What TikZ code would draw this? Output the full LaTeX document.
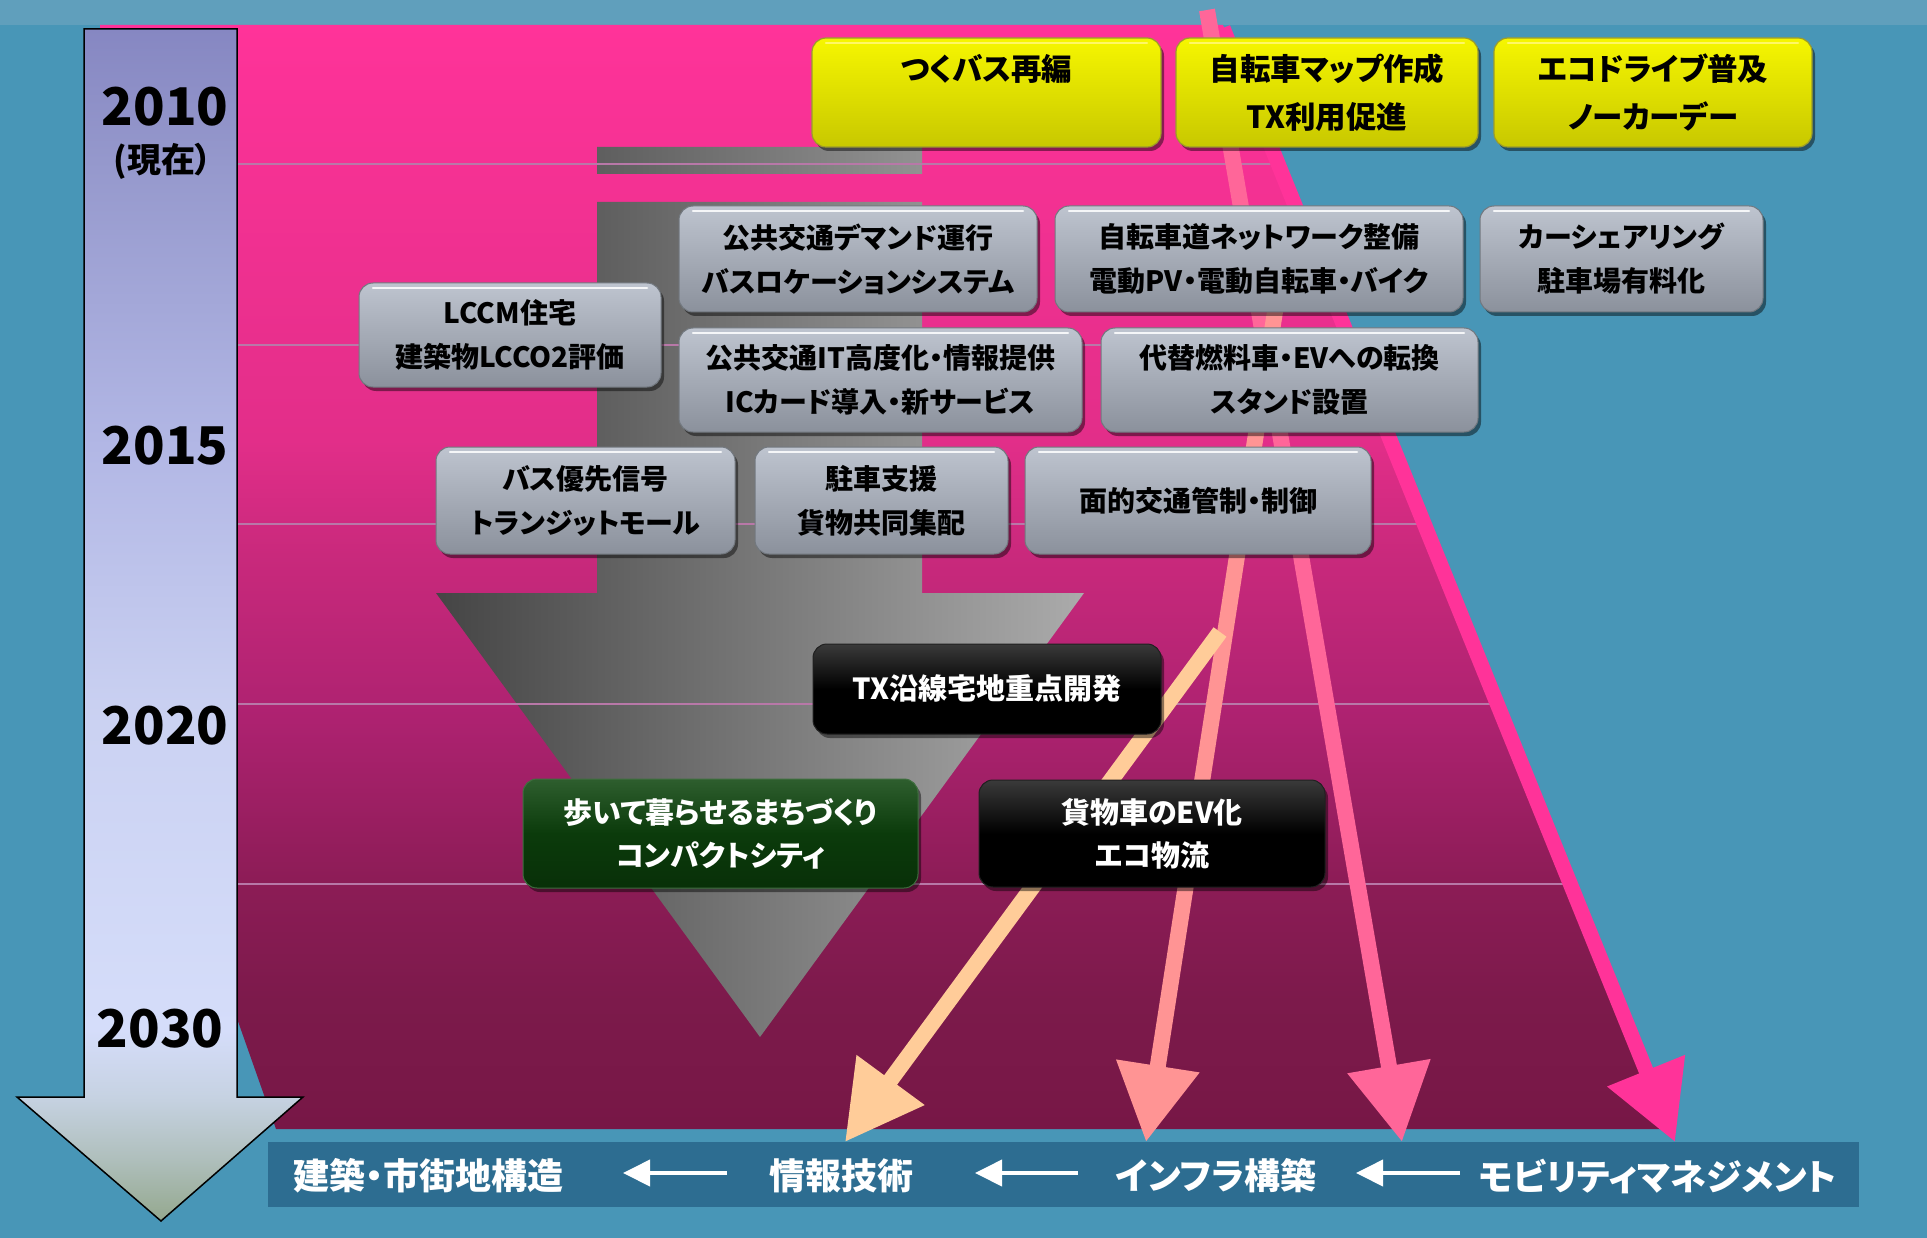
\documentclass[tikz,border=0pt]{standalone}
\usepackage{fontspec}
\setmainfont{Noto Sans CJK JP}[RawFeature=+palt]
\usetikzlibrary{arrows.meta,shadows}

\definecolor{bgblue}{HTML}{4896B7}
\definecolor{topband}{HTML}{609FBC}
\definecolor{bandblue}{HTML}{2D6D91}
\definecolor{pkA}{HTML}{771746}
\definecolor{pkB}{HTML}{7C1A4B}
\definecolor{pkC}{HTML}{8C1C56}
\definecolor{pkD}{HTML}{AD2270}
\definecolor{pkE}{HTML}{C9297C}
\definecolor{pkF}{HTML}{E22E89}
\definecolor{pkG}{HTML}{FF3399}
\definecolor{tlA}{HTML}{94A88E}
\definecolor{tlB}{HTML}{AFBFBC}
\definecolor{tlC}{HTML}{C6D2E2}
\definecolor{tlD}{HTML}{D5DDFA}
\definecolor{tlE}{HTML}{CBD2F2}
\definecolor{tlF}{HTML}{B2B7E5}
\definecolor{tlG}{HTML}{9598CC}
\definecolor{tlH}{HTML}{8687C2}
\definecolor{grayL}{HTML}{454545}
\definecolor{grayR}{HTML}{ABABAB}
\definecolor{yelT}{HTML}{F6F600}
\definecolor{yelB}{HTML}{C8C800}
\definecolor{yelD}{HTML}{9C9C2C}
\definecolor{gryT}{HTML}{BEC4CF}
\definecolor{gryB}{HTML}{8B919C}
\definecolor{gryD}{HTML}{72787F}
\definecolor{blkT}{HTML}{3A3A3A}
\definecolor{blkD}{HTML}{202020}
\definecolor{grnT}{HTML}{2E5E2E}
\definecolor{grnM}{HTML}{0B3B0B}
\definecolor{grnB}{HTML}{083008}
\definecolor{grnD}{HTML}{3F6F3F}
\definecolor{hotpink}{HTML}{FF3399}
\definecolor{pinkarr}{HTML}{FF6699}
\definecolor{salmon}{HTML}{FF9494}
\definecolor{peach}{HTML}{FFCC99}
\definecolor{yrline}{HTML}{B878A8}

\pgfdeclareverticalshading{pinkshade}{100bp}{color(0bp)=(pkA); color(25bp)=(pkA); color(30.8bp)=(pkB); color(36.1bp)=(pkC); color(43.5bp)=(pkD); color(51bp)=(pkE); color(56.2bp)=(pkF); color(75bp)=(pkG); color(100bp)=(pkG)}
\pgfdeclareverticalshading{tlshade}{100bp}{color(0bp)=(tlA); color(25bp)=(tlA); color(27.6bp)=(tlB); color(30.2bp)=(tlC); color(33bp)=(tlD); color(45.8bp)=(tlE); color(57.5bp)=(tlF); color(69.5bp)=(tlG); color(75bp)=(tlH); color(100bp)=(tlH)}

\newcommand\bxfontY{\fontsize{30.5}{48}\selectfont\bfseries}
\newcommand\bxfontG{\fontsize{28}{44}\selectfont\bfseries}
\newcommand\bxfontK{\fontsize{29}{43}\selectfont\bfseries}
\newcommand\yrfont{\fontsize{52}{56}\selectfont\bfseries}
\newcommand\lbfont{\fontsize{36}{40}\selectfont\bfseries}

\tikzset{
  box/.style={rounded corners=14pt, inner sep=0pt, align=center,
    drop shadow={shadow xshift=3pt, shadow yshift=-4pt, opacity=.45, fill=black}},
  hl/.style={path picture={\draw[#1, line width=2.5pt, line cap=round]
      ([xshift=14pt,yshift=-5pt]path picture bounding box.north west) --
      ([xshift=-14pt,yshift=-5pt]path picture bounding box.north east);}},
  ybox/.style={box, top color=yelT, bottom color=yelB, draw=yelD, line width=1.2pt,
    text=black, font=\bxfontY, hl={yellow!60!white}},
  gbox/.style={box, top color=gryT, bottom color=gryB, draw=gryD, line width=1pt,
    text=black, font=\bxfontG, hl={white!85!gryT}},
  kbox/.style={box, top color=blkT, bottom color=black, middle color=black, draw=blkD,
    line width=1pt, text=white, font=\bxfontK},
  grbox/.style={box, top color=grnT, bottom color=grnB, middle color=grnM, draw=grnD,
    line width=1pt, text=white, font=\bxfontK},
  yrlab/.style={font=\yrfont, text=black, inner sep=0pt},
  blab/.style={font=\lbfont, text=white, inner sep=0pt},
  bigarr/.style={line width=16pt, #1, -{Triangle[width=80pt,length=77pt]}},
  warr/.style={white, line width=4pt, -{Triangle[width=26pt,length=27pt]}},
  yrl/.style={yrline, line width=1.2pt},
}

\begin{document}
\begin{tikzpicture}[x=1pt,y=-1pt]
\useasboundingbox (0,0) rectangle (1927,1238);
% background
\fill[bgblue] (0,0) rectangle (1927,1238);
\fill[topband] (0,0) rectangle (1927,25);
% pink region
\shade[shading=pinkshade] (100,25) -- (1223,25) -- (1670,1129) -- (276,1129) -- (234,1010) -- cycle;
% big gray arrow
\shade[left color=grayL, right color=grayR]
  (597,147) rectangle (922,174)
  (597,202) -- (922,202) -- (922,593) -- (1084,593) -- (760,1037) -- (436,593) -- (597,593) -- cycle;
% year lines
\foreach \yy/\xx in {164/1279,345/1352,524/1425,704/1498,884/1571}
  \draw[yrl] (237,\yy) -- (\xx,\yy);
% timeline arrow
\shadedraw[shading=tlshade, draw=black, line width=1.5pt]
  (84,29) -- (237,29) -- (237,1097) -- (303,1097) -- (161,1221) -- (17,1097) -- (84,1097) -- cycle;
\node[yrlab] (y2010) at (165,107) {2010};
\node[font=\fontsize{34}{38}\selectfont\bfseries, inner sep=0pt] (now) at (163,161) {(現在）};
\node[yrlab] (y2015) at (165,446) {2015};
\node[yrlab] (y2020) at (165,726) {2020};
\node[yrlab] (y2030) at (160,1029) {2030};
% bottom band
\fill[bandblue] (268,1142) rectangle (1859,1207);
\node[blab] (L1) at (428,1176) {建築・市街地構造};
\node[blab] (L2) at (841,1176) {情報技術};
\node[blab] (L3) at (1216,1176) {インフラ構築};
\node[blab] (L4) at (1658,1176) {モビリティマネジメント};
\coordinate (w1s) at (727,1173); \coordinate (w1e) at (623,1173);
\coordinate (w2s) at (1078,1173); \coordinate (w2e) at (975,1173);
\coordinate (w3s) at (1460,1173); \coordinate (w3e) at (1356,1173);
\draw[warr] (w1s) -- (w1e);
\draw[warr] (w2s) -- (w2e);
\draw[warr] (w3s) -- (w3e);
% colored arrows
\coordinate (hpS) at (1223,28);  \coordinate (hpE) at (1675,1142);
\coordinate (pkS) at (1207,10);  \coordinate (pkE) at (1402,1142);
\coordinate (saS) at (1283,260); \coordinate (saE) at (1146,1142);
\coordinate (peS) at (1220,632); \coordinate (peE) at (845,1142);
\draw[bigarr=hotpink, line width=15pt] (hpS) -- (hpE);
\draw[bigarr=pinkarr] (pkS) -- (pkE);
\draw[bigarr=salmon] (saS) -- (saE);
\draw[bigarr=peach] (peS) -- (peE);
% yellow boxes
\node[ybox, minimum width=349pt, minimum height=109pt] (yb1) at (986.5,92.5) {つくバス再編\\\phantom{あ}};
\node[ybox, minimum width=302pt, minimum height=109pt] (yb2) at (1327,92.5) {自転車マップ作成\\TX利用促進};
\node[ybox, minimum width=318pt, minimum height=109pt] (yb3) at (1653,92.5) {エコドライブ普及\\ノーカーデー};
% gray boxes
\node[gbox, minimum width=358pt, minimum height=106pt] (gb1) at (858,259) {公共交通デマンド運行\\バスロケーションシステム};
\node[gbox, minimum width=408pt, minimum height=106pt] (gb2) at (1259,259) {自転車道ネットワーク整備\\電動PV・電動自転車・バイク};
\node[gbox, minimum width=283pt, minimum height=106pt] (gb3) at (1621.5,259) {カーシェアリング\\駐車場有料化};
\node[gbox, minimum width=302pt, minimum height=104pt] (gb4) at (510,335) {LCCM住宅\\建築物LCCO2評価};
\node[gbox, minimum width=403pt, minimum height=104pt] (gb5) at (880.5,380) {公共交通IT高度化・情報提供\\ICカード導入・新サービス};
\node[gbox, minimum width=377pt, minimum height=104pt] (gb6) at (1289.5,380) {代替燃料車・EVへの転換\\スタンド設置};
\node[gbox, minimum width=299pt, minimum height=107pt] (gb7) at (585.5,500.5) {バス優先信号\\トランジットモール};
\node[gbox, minimum width=253pt, minimum height=107pt] (gb8) at (881.5,500.5) {駐車支援\\貨物共同集配};
\node[gbox, minimum width=346pt, minimum height=107pt] (gb9) at (1198,500.5) {面的交通管制・制御};
% dark boxes
\node[kbox, minimum width=348pt, minimum height=90pt] (kb1) at (987,689) {TX沿線宅地重点開発};
\node[grbox, minimum width=395pt, minimum height=109pt] (gr1) at (720.5,833.5) {歩いて暮らせるまちづくり\\コンパクトシティ};
\node[kbox, minimum width=346pt, minimum height=107pt] (kb2) at (1152,833.5) {貨物車のEV化\\エコ物流};
\end{tikzpicture}
\end{document}
